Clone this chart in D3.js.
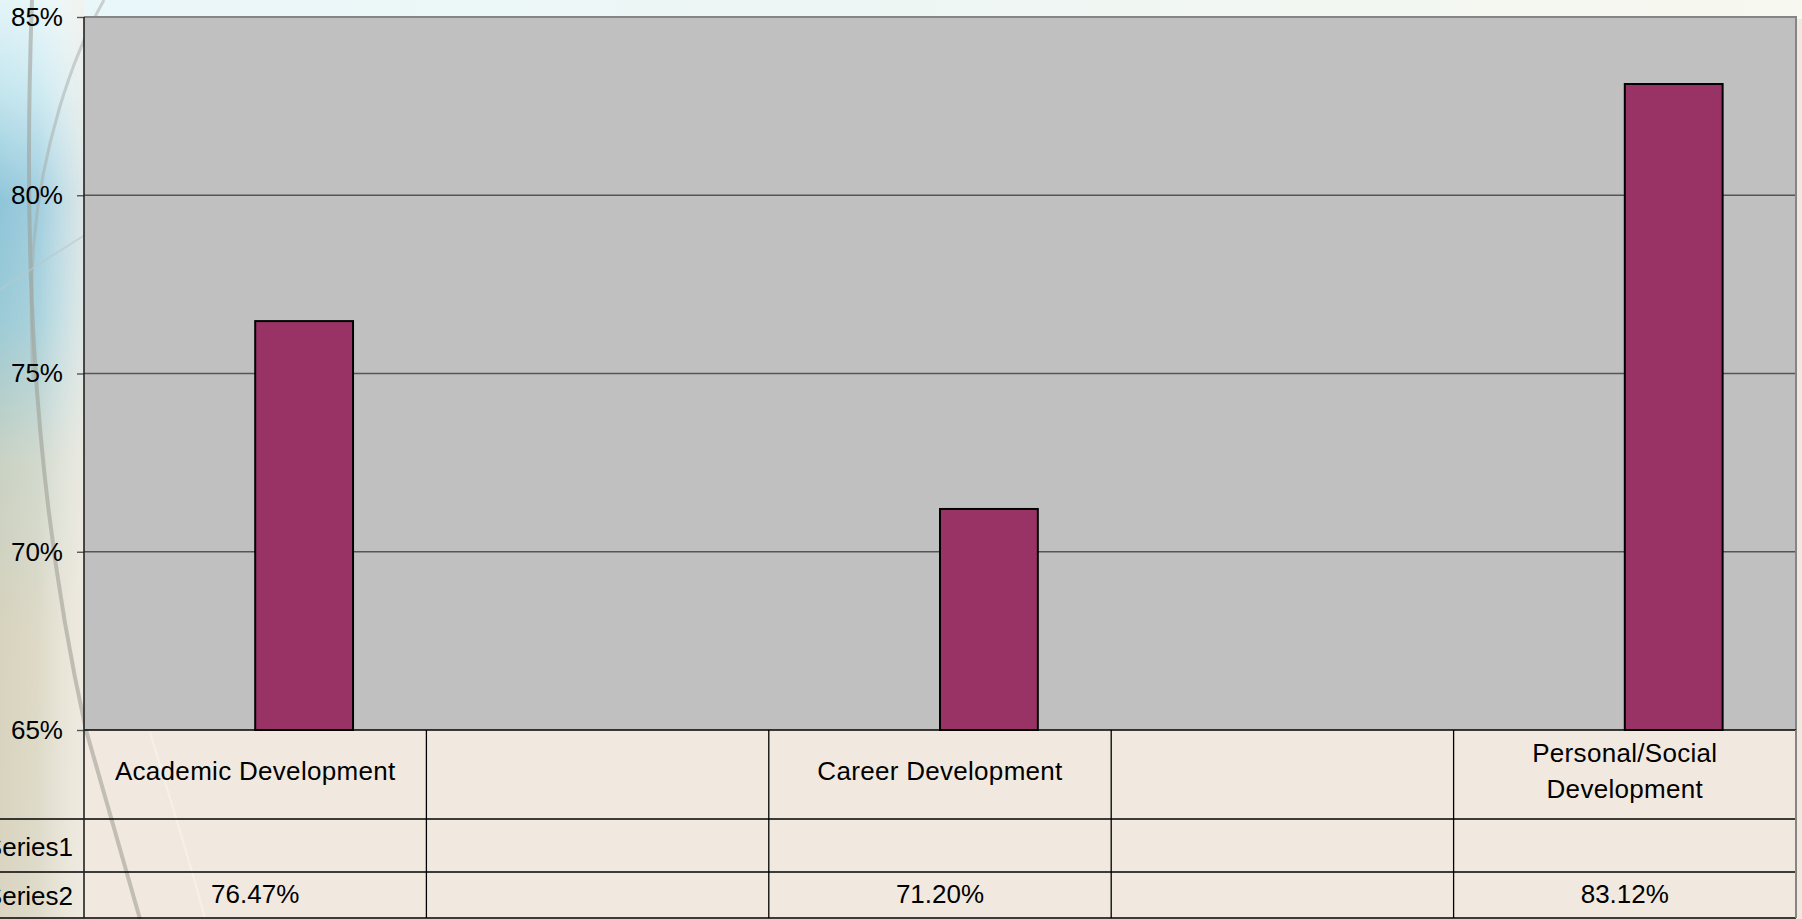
<!DOCTYPE html>
<html>
<head>
<meta charset="utf-8">
<script src="https://cdn.jsdelivr.net/npm/d3@7"></script>
<style>
  html, body { margin: 0; padding: 0; background: #f1e9df; overflow: hidden; }
  svg { display: block; font-family: 'Liberation Sans', Arial, sans-serif; }
</style>
</head>
<body>
<svg id="chart" width="1802" height="919"></svg>
<script>
// chart data
const categories = ['Academic Development', '', 'Career Development', '', 'Personal/Social Development'];
const seriesNames = ['Series1', 'Series2'];
const series1 = [null, null, null, null, null];
const series2 = [0.7647, null, 0.7120, null, 0.8312];
const yTicks = [0.65, 0.70, 0.75, 0.80, 0.85];

const W = 1802, H = 919;
const plot = { left: 84, right: 1796, top: 17, bottom: 730 };
const rowEdges = [730, 819, 872, 918];
const barColor = '#993366';
const fontSize = 26;

const svg = d3.select('#chart');
const defs = svg.append('defs');

// slide background
const drawBackground = () => {
  let top = defs.append('linearGradient').attr('id', 'topBand').attr('x1', 0).attr('x2', 1).attr('y1', 0).attr('y2', 0);
  top.append('stop').attr('offset', 0).attr('stop-color', '#e9f7fa');
  top.append('stop').attr('offset', 0.5).attr('stop-color', '#eef6f4');
  top.append('stop').attr('offset', 1).attr('stop-color', '#f7f8ef');

  let left = defs.append('linearGradient').attr('id', 'leftStrip').attr('x1', 0).attr('x2', 0).attr('y1', 0).attr('y2', 1);
  [[0, '#e4f5f8'], [0.1, '#c4e6ef'], [0.22, '#8fc5d9'], [0.35, '#9ccbd6'], [0.5, '#c9d2c4'], [0.7, '#d8d3bd'], [1, '#d9d5c1']]
    .forEach(s => left.append('stop').attr('offset', s[0]).attr('stop-color', s[1]));

  let fade = defs.append('linearGradient').attr('id', 'leftFade').attr('x1', 0).attr('x2', 1).attr('y1', 0).attr('y2', 0);
  fade.append('stop').attr('offset', 0).attr('stop-color', '#fff').attr('stop-opacity', 0);
  fade.append('stop').attr('offset', 0.45).attr('stop-color', '#fff').attr('stop-opacity', 0.15);
  fade.append('stop').attr('offset', 1).attr('stop-color', '#f6f1ea').attr('stop-opacity', 0.75);

  svg.append('rect').attr('width', W).attr('height', H).attr('fill', '#f1e9df');
  svg.append('rect').attr('width', W).attr('height', plot.top + 2).attr('fill', 'url(#topBand)');
  svg.append('rect').attr('width', plot.left).attr('height', H).attr('fill', 'url(#leftStrip)');
  svg.append('rect').attr('width', plot.left).attr('height', H).attr('fill', 'url(#leftFade)');

  // swoosh curves
  const curves = [
    { d: 'M32,0 C24,220 28,470 86,730 L140,919', w: 4, c: '#9a9a92', o: 0.55 },
    { d: 'M104,0 C70,60 42,150 34,240 C30,300 31,330 33,380', w: 3, c: '#a5aaa6', o: 0.5 },
    { d: 'M0,290 C30,270 60,250 90,232', w: 2, c: '#b8c8cc', o: 0.6 },
    { d: 'M150,732 C170,800 190,860 205,919', w: 2, c: '#ffffff', o: 0.35 }
  ];
  svg.append('g').selectAll('path').data(curves).enter().append('path')
    .attr('d', d => d.d)
    .attr('fill', 'none')
    .attr('stroke', d => d.c)
    .attr('stroke-width', d => d.w)
    .attr('stroke-opacity', d => d.o);
};

drawBackground();

// scales
const scaleY = d3.scaleLinear().domain([0.65, 0.85]).range([plot.bottom, plot.top]);
const scaleX = d3.scaleBand().domain(d3.range(categories.length)).range([plot.left, plot.right]).padding(0);
const step = scaleX.bandwidth();
// two clustered series, gap width 150%
const barWidth = step / (seriesNames.length + 1.5);
const groupOffset = (step - barWidth * seriesNames.length) / 2;

// plot area
svg.append('rect')
  .attr('x', plot.left).attr('y', plot.top)
  .attr('width', plot.right - plot.left).attr('height', plot.bottom - plot.top)
  .attr('fill', '#c0c0c0');

// gridlines
svg.append('g').attr('class', 'grid')
  .selectAll('line').data(yTicks.slice(1, -1)).enter().append('line')
  .attr('x1', plot.left).attr('x2', plot.right)
  .attr('y1', d => scaleY(d)).attr('y2', d => scaleY(d))
  .attr('stroke', '#555').attr('stroke-width', 1.4);

// plot border top / right
svg.append('path')
  .attr('d', `M${plot.left},${plot.top}H${plot.right}V${plot.bottom}`)
  .attr('fill', 'none').attr('stroke', '#858585').attr('stroke-width', 2);

// bars
const seriesData = [series1, series2];
seriesData.forEach((vals, num) => {
  svg.append('g').attr('class', `bars-${num}`)
    .selectAll('rect').data(vals.map((v, i) => ({ v, i })).filter(d => d.v !== null))
    .enter().append('rect')
    .attr('class', 'bar')
    .attr('x', d => scaleX(d.i) + groupOffset + num * barWidth)
    .attr('y', d => scaleY(d.v))
    .attr('width', barWidth)
    .attr('height', d => scaleY(0.65) - scaleY(d.v))
    .attr('fill', barColor)
    .attr('stroke', '#000')
    .attr('stroke-width', 2);
});

// y axis
const yAxis = svg.append('g')
  .attr('transform', `translate(${plot.left},0)`)
  .call(d3.axisLeft(scaleY).tickValues(yTicks).tickFormat(d3.format('.0%')).tickSize(7).tickPadding(14));
yAxis.select('.domain').remove();
yAxis.selectAll('.tick line').attr('stroke', '#555').attr('stroke-width', 1.4);
yAxis.selectAll('.tick text')
  .attr('font-size', fontSize)
  .attr('font-family', "'Liberation Sans', Arial, sans-serif")
  .attr('fill', '#000');

// data table
const table = svg.append('g').attr('class', 'data-table');
table.append('line')
  .attr('x1', plot.left).attr('x2', plot.right)
  .attr('y1', rowEdges[0]).attr('y2', rowEdges[0])
  .attr('stroke', '#000').attr('stroke-width', 1.5);
table.selectAll('.row-line').data(rowEdges.slice(1)).enter().append('line')
  .attr('class', 'row-line')
  .attr('x1', 0).attr('x2', plot.right)
  .attr('y1', d => d).attr('y2', d => d)
  .attr('stroke', '#000').attr('stroke-width', 1.3);
table.selectAll('.col-line').data(d3.range(categories.length)).enter().append('line')
  .attr('class', 'col-line')
  .attr('x1', d => scaleX(d) + step).attr('x2', d => scaleX(d) + step)
  .attr('y1', rowEdges[0]).attr('y2', rowEdges[3])
  .attr('stroke', d => d === categories.length - 1 ? '#858585' : '#000')
  .attr('stroke-width', d => d === categories.length - 1 ? 2 : 1.3);
// y axis line runs down through the table
svg.append('line')
  .attr('x1', plot.left).attr('x2', plot.left)
  .attr('y1', plot.top).attr('y2', rowEdges[3])
  .attr('stroke', '#222').attr('stroke-width', 1.6);

// category labels (wrapped)
const catRowMid = (rowEdges[0] + rowEdges[1]) / 2;
const lineHeight = 36;
const catText = table.selectAll('.cat').data(categories).enter().append('text')
  .attr('class', 'cat')
  .attr('text-anchor', 'middle')
  .attr('font-size', fontSize)
  .attr('letter-spacing', 0.3)
  .attr('fill', '#000');
catText.each(function (d, i) {
  let el = d3.select(this);
  let cx = scaleX(i) + step / 2;
  let words = d.split(' ');
  let lines = [];
  let cur = '';
  let probe = el.append('tspan');
  words.forEach(w => {
    let test = cur ? cur + ' ' + w : w;
    probe.text(test);
    if (probe.node().getComputedTextLength() > step - 40 && cur) {
      lines.push(cur);
      cur = w;
    } else {
      cur = test;
    }
  });
  if (cur) lines.push(cur);
  probe.remove();
  lines.forEach((ln, k) => {
    el.append('tspan')
      .attr('x', cx)
      .attr('y', catRowMid + (k - (lines.length - 1) / 2) * lineHeight + 5)
      .text(ln);
  });
});

// series rows
seriesNames.forEach((name, r) => {
  let mid = (rowEdges[r + 1] + rowEdges[r + 2]) / 2;
  table.append('text')
    .attr('x', 73).attr('y', mid + 10)
    .attr('text-anchor', 'end')
    .attr('font-size', fontSize)
    .attr('fill', '#000')
    .text(name);
  table.selectAll(`.val-${r}`).data(seriesData[r]).enter().append('text')
    .attr('class', `val-${r}`)
    .attr('x', (d, i) => scaleX(i) + step / 2)
    .attr('y', mid + 8)
    .attr('text-anchor', 'middle')
    .attr('font-size', fontSize)
    .attr('fill', '#000')
    .text(d => d === null ? '' : d3.format('.2%')(d));
});
</script>
</body>
</html>
